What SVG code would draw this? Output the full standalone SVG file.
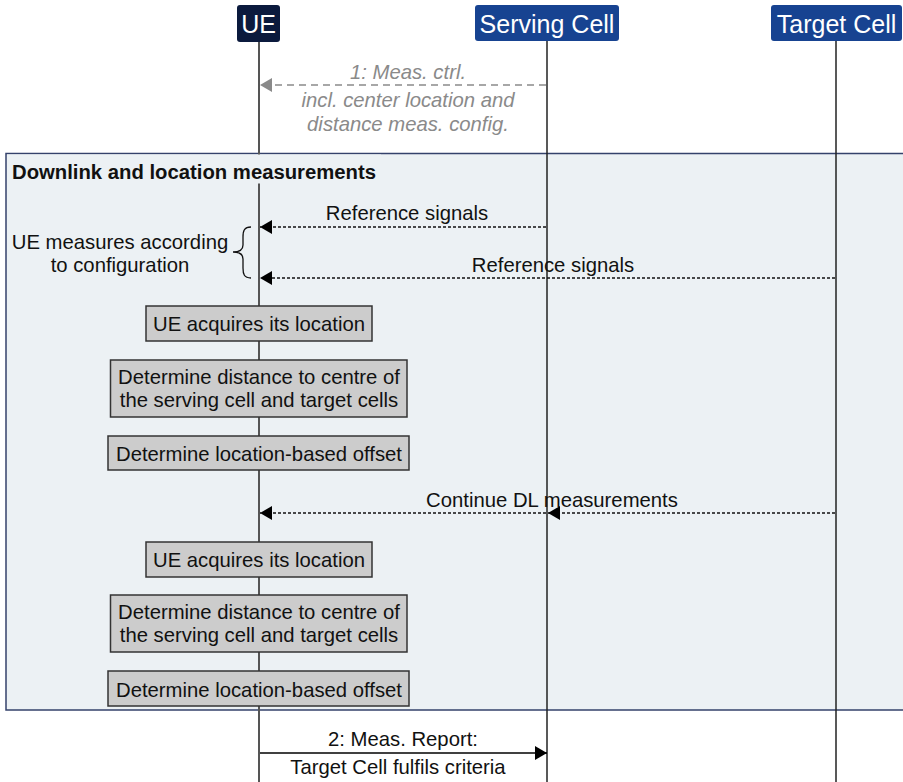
<svg xmlns="http://www.w3.org/2000/svg" width="903" height="782" viewBox="0 0 903 782">
<style>
text{font-family:"Liberation Sans",Arial,sans-serif;font-size:20.3px;fill:#111}
.hd{font-size:25px;fill:#fff}
.c{text-anchor:middle}
.it{font-style:italic;fill:#8a8a8a}
.b{font-weight:bold}
.act{fill:#cccccc;stroke:#333;stroke-width:1.5}
.dot{stroke:#111;stroke-width:1.5;stroke-dasharray:3 2;fill:none}
.life{stroke:#222;stroke-width:1.5}
</style>
<defs>
<marker id="ah" viewBox="0 0 12 14" refX="12" refY="7" markerWidth="12" markerHeight="14" markerUnits="userSpaceOnUse" orient="auto"><path d="M0,0 L12,7 L0,14 z" fill="#000"/></marker>
<marker id="ahg" viewBox="0 0 12 14" refX="12" refY="7" markerWidth="12" markerHeight="14" markerUnits="userSpaceOnUse" orient="auto"><path d="M0,0 L12,7 L0,14 z" fill="#8a8a8a"/></marker>
</defs>
<rect width="903" height="782" fill="#fff"/>
<g id="group-downlink">
<rect x="6" y="153.5" width="910" height="556.5" fill="#ecf1f4" stroke="#34426b" stroke-width="1.5"/>
</g>
<g id="lifelines">
<line x1="259" y1="42" x2="259" y2="782" stroke="#555" stroke-width="2"/>
<line x1="547" y1="41" x2="547" y2="782" class="life"/>
<line x1="836" y1="41" x2="836" y2="782" class="life"/>
</g>
<g id="group-title">
<rect x="7" y="154.5" width="374" height="29" fill="#ecf1f4"/>
<text x="12" y="179" class="b">Downlink and location measurements</text>
</g>
<g id="UE">
<rect x="237" y="5" width="43" height="37" rx="3" fill="#0b1a3d"/>
<text x="258.5" y="33" class="hd c">UE</text>
</g>
<g id="ServingCell">
<rect x="475" y="5" width="144" height="36" rx="3" fill="#174391"/>
<text x="547" y="33" class="hd c">Serving Cell</text>
</g>
<g id="TargetCell">
<rect x="771" y="5" width="131" height="36" rx="3" fill="#174391"/>
<text x="836.5" y="33" class="hd c">Target Cell</text>
</g>
<g id="connectors">
<line x1="546" y1="85" x2="260" y2="85" stroke="#8a8a8a" stroke-width="1.5" stroke-dasharray="7 5" marker-end="url(#ahg)"/>
<line x1="546" y1="227" x2="260" y2="227" class="dot" marker-end="url(#ah)"/>
<line x1="835" y1="278" x2="260" y2="278" class="dot" marker-end="url(#ah)"/>
<line x1="835" y1="513" x2="548" y2="513" class="dot" marker-end="url(#ah)"/>
<line x1="546" y1="513" x2="260" y2="513" class="dot" marker-end="url(#ah)"/>
<line x1="260" y1="753" x2="547" y2="753" stroke="#000" stroke-width="1.5" marker-end="url(#ah)"/>
<path d="M251,227 C244,227 243,231 243,237 L243,245 C243,250 240,252 233,252 C240,252 243,254 243,259 L243,268 C243,274 244,278 251,278" fill="none" stroke="#111" stroke-width="1.3"/>
</g>
<g id="labels">
<text x="408" y="79" class="it c">1: Meas. ctrl.</text>
<text x="408" y="107" class="it c">incl. center location and</text>
<text x="408" y="131" class="it c">distance meas. config.</text>
<text x="407" y="220" class="c">Reference signals</text>
<text x="553" y="272" class="c">Reference signals</text>
<text x="120" y="249" class="c">UE measures according</text>
<text x="120" y="272" class="c">to configuration</text>
<text x="552" y="507" class="c">Continue DL measurements</text>
<text x="403" y="746" class="c">2: Meas. Report:</text>
<text x="398" y="774" class="c">Target Cell fulfils criteria</text>
</g>
<g id="act-location-1">
<rect x="146" y="306" width="226" height="35" class="act"/>
<text x="259" y="331" class="c">UE acquires its location</text>
</g>
<g id="act-distance-1">
<rect x="110.5" y="360" width="296.5" height="57" class="act"/>
<text x="259" y="384" class="c">Determine distance to centre of</text>
<text x="259" y="407" class="c">the serving cell and target cells</text>
</g>
<g id="act-offset-1">
<rect x="108" y="436" width="301" height="34" class="act"/>
<text x="259" y="461" class="c">Determine location-based offset</text>
</g>
<g id="act-location-2">
<rect x="146" y="542" width="226" height="35" class="act"/>
<text x="259" y="567" class="c">UE acquires its location</text>
</g>
<g id="act-distance-2">
<rect x="110.5" y="595" width="296.5" height="57" class="act"/>
<text x="259" y="619" class="c">Determine distance to centre of</text>
<text x="259" y="642" class="c">the serving cell and target cells</text>
</g>
<g id="act-offset-2">
<rect x="108" y="671" width="301" height="35" class="act"/>
<text x="259" y="697" class="c">Determine location-based offset</text>
</g>
</svg>
